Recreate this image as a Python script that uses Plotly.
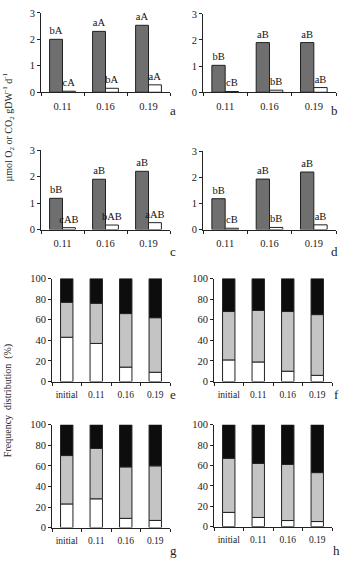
import plotly.graph_objects as go

W, H = 343, 565

# ---------- data ----------
groups = ["0.11", "0.16", "0.19"]
a_gray = [2.0, 2.3, 2.53]
a_white = [0.04, 0.15, 0.28]
a_gray_lbl = ["bA", "aA", "aA"]
a_white_lbl = ["cA", "bA", "aA"]

b_gray = [1.03, 1.9, 1.9]
b_white = [0.03, 0.08, 0.18]
b_gray_lbl = ["bB", "aB", "aB"]
b_white_lbl = ["cB", "bB", "aB"]

c_gray = [1.18, 1.9, 2.2]
c_white = [0.07, 0.17, 0.26]
c_gray_lbl = ["bB", "aB", "aB"]
c_white_lbl = ["cAB", "bAB", "aAB"]

d_gray = [1.18, 1.93, 2.2]
d_white = [0.05, 0.08, 0.18]
d_gray_lbl = ["bB", "aB", "aB"]
d_white_lbl = ["cB", "bB", "aB"]

stages = ["initial", "0.11", "0.16", "0.19"]
e_white = [43, 37, 14, 9]
e_gray = [34, 39, 52, 53]
e_black = [23, 24, 34, 38]

f_white = [21, 19, 10, 6]
f_gray = [47, 50, 58, 59]
f_black = [32, 31, 32, 35]

g_white = [23, 28, 9, 7]
g_gray = [47, 49, 50, 53]
g_black = [30, 23, 41, 40]

h_white = [14, 9, 6, 5]
h_gray = [53, 53, 55, 48]
h_black = [33, 38, 39, 47]

# ---------- style ----------
FONT = "Liberation Serif"
DARK = "#6f6f6f"
LIGHT = "#c4c4c4"
BLACK = "#0d0d0d"
LINE = "#222222"

def xd(x0, x1):
    return [x0 / W, x1 / W]

def yd(ytop, ybot):
    return [1 - ybot / H, 1 - ytop / H]

panels = {
    1: (xd(41, 170), yd(8, 89)),
    2: (xd(203, 336), yd(9, 89)),
    3: (xd(41, 170), yd(148, 229)),
    4: (xd(203, 336), yd(149, 229)),
    5: (xd(52, 170), yd(279, 384)),
    6: (xd(214, 332), yd(279, 384)),
    7: (xd(52, 170), yd(428, 533)),
    8: (xd(214, 332), yd(428, 532)),
}

fig = go.Figure()

def ax_name(i, kind):
    return kind if i == 1 else f"{kind}{i}"

def add_group(i, gray, white, glbl, wlbl):
    xa, ya = ax_name(i, "x"), ax_name(i, "y")
    common = dict(xaxis=xa, yaxis=ya, width=0.3, textposition="outside",
                  cliponaxis=False, constraintext="none",
                  textfont=dict(family=FONT, size=10.5, color="#111"),
                  showlegend=False)
    fig.add_trace(go.Bar(x=groups, y=gray, text=glbl, offset=-0.3,
                         marker=dict(color=DARK, line=dict(color=LINE, width=1)),
                         **common))
    fig.add_trace(go.Bar(x=groups, y=white, text=wlbl, offset=0.0,
                         marker=dict(color="white", line=dict(color=LINE, width=1)),
                         **common))

def add_stack(i, white, gray, black):
    xa, ya = ax_name(i, "x"), ax_name(i, "y")
    base_g = white
    base_b = [w + g for w, g in zip(white, gray)]
    for vals, base, col in [(white, None, "white"), (gray, base_g, LIGHT), (black, base_b, BLACK)]:
        fig.add_trace(go.Bar(x=stages, y=vals, base=base, width=0.42, offset=-0.21,
                             xaxis=xa, yaxis=ya, showlegend=False,
                             marker=dict(color=col, line=dict(color=LINE, width=1))))

add_group(1, a_gray, a_white, a_gray_lbl, a_white_lbl)
add_group(2, b_gray, b_white, b_gray_lbl, b_white_lbl)
add_group(3, c_gray, c_white, c_gray_lbl, c_white_lbl)
add_group(4, d_gray, d_white, d_gray_lbl, d_white_lbl)
add_stack(5, e_white, e_gray, e_black)
add_stack(6, f_white, f_gray, f_black)
add_stack(7, g_white, g_gray, g_black)
add_stack(8, h_white, h_gray, h_black)

layout = dict(
    width=W, height=H, margin=dict(l=0, r=0, t=0, b=0),
    paper_bgcolor="white", plot_bgcolor="white",
    barmode="overlay", showlegend=False,
    font=dict(family=FONT, size=10, color="#222"),
)
for i, (xdom, ydom) in panels.items():
    xa, ya = ax_name(i, "xaxis"), ax_name(i, "yaxis")
    ncat = 3 if i <= 4 else 4
    layout[xa] = dict(domain=xdom, anchor=ax_name(i, "y"), type="category",
                      range=[-0.5, ncat - 0.5], showgrid=False, zeroline=False,
                      showline=True, linecolor=LINE, linewidth=1,
                      ticks="outside", tickson="boundaries", ticklen=3,
                      tickcolor=LINE, ticklabelstandoff=4, tickangle=0,
                      tickfont=dict(family=FONT, size=10.5 if i <= 4 else 9.5, color="#222"))
    if i <= 4:
        ycfg = dict(range=[0, 3], dtick=1, tick0=0)
    else:
        ycfg = dict(range=[0, 100], dtick=20, tick0=0)
    layout[ya] = dict(domain=ydom, anchor=ax_name(i, "x"), showgrid=False,
                      zeroline=False, showline=True, linecolor=LINE, linewidth=1,
                      ticks="outside", ticklen=3, tickcolor=LINE,
                      tickfont=dict(family=FONT, size=10.5, color="#222"), **ycfg)
fig.update_layout(**layout)

annots = []
letters = [("a", 173, 108), ("b", 334, 108), ("c", 173, 251), ("d", 334, 251),
           ("e", 173, 397), ("f", 336, 397), ("g", 173, 556), ("h", 336, 556)]
for t, x, y in letters:
    annots.append(dict(text=t, x=x / W, y=1 - y / H, xref="paper", yref="paper",
                       showarrow=False, font=dict(family=FONT, size=13, color="#222"),
                       xanchor="center", yanchor="middle"))
annots.append(dict(text="µmol O<sub>2</sub> or CO<sub>2</sub> gDW<sup>-1</sup> d<sup>-1</sup>",
                   x=8 / W, y=1 - 125 / H, xref="paper", yref="paper", showarrow=False,
                   textangle=-90, font=dict(family=FONT, size=10, color="#222"),
                   xanchor="center", yanchor="middle"))
annots.append(dict(text="Frequency  distribution  (%)",
                   x=8 / W, y=1 - 404 / H, xref="paper", yref="paper", showarrow=False,
                   textangle=-90, font=dict(family=FONT, size=10, color="#222"),
                   xanchor="center", yanchor="middle"))
fig.update_layout(annotations=annots)

fig.write_html("out.html")
